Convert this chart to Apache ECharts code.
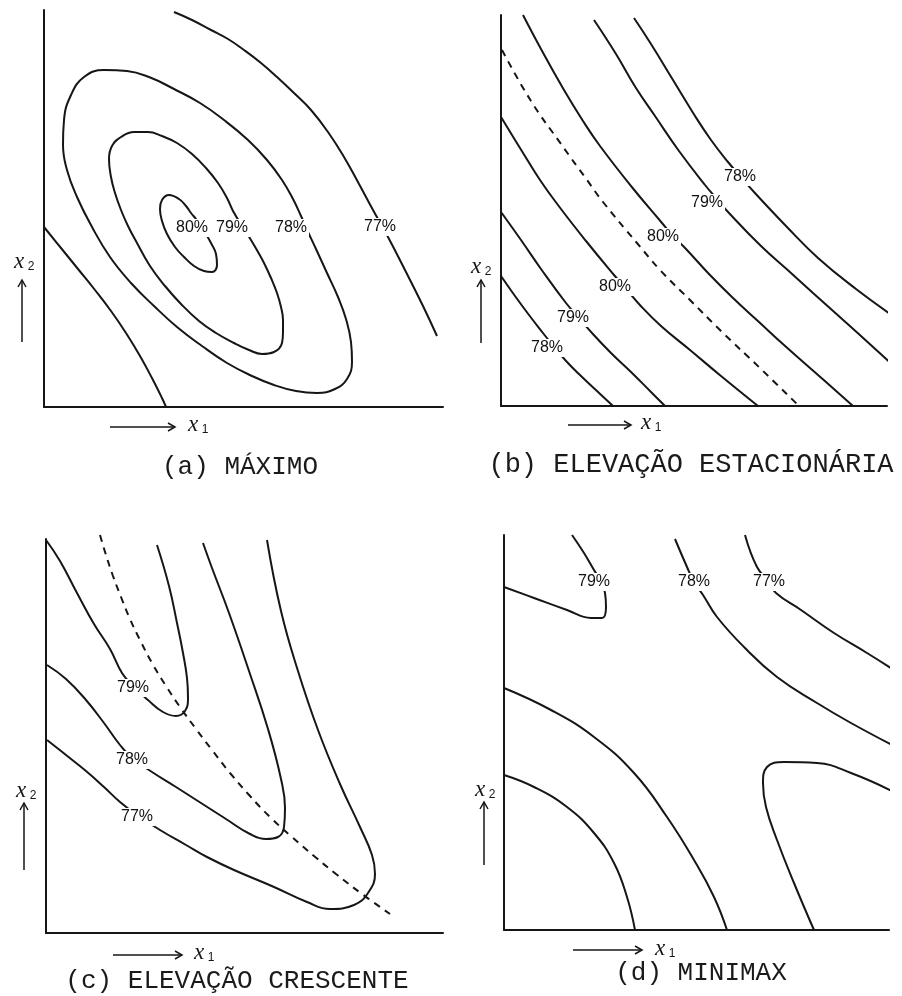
<!DOCTYPE html>
<html>
<head>
<meta charset="utf-8">
<script src="https://cdn.jsdelivr.net/npm/echarts@6/dist/echarts.min.js"></script>
<style>
  html, body { margin: 0; padding: 0; background: #fff; }
  #chart { width: 902px; height: 996px; }
</style>
</head>
<body>
<div id="chart"></div>
<script>
// ---- (a) MÁXIMO : contour lines in the (x1, x2) plane ----
const maxCurve77Upper = [[130,395],[148,387],[167,377],[184,368],[200,357],[217,344],[233,330],[250,314],[267,297],[284,275],[300,250],[315,223],[329,197],[344,170],[362,135],[379,101],[393,71]];
const maxCurve77Lower = [[0,180],[17,159],[34,138],[51,117],[67,96],[82,74],[96,51],[109,27],[118,9],[122,0]];
const maxCurve78 = [[264,175],[272,158],[283,134],[294,110],[302,88],[307,65],[308,45],[303,28],[291,18],[273,14],[252,16],[230,22],[208,31],[183,44],[158,61],[133,80],[110,101],[87,124],[66,150],[48,180],[33,210],[23,237],[19,262],[20,287],[27,312],[40,330],[60,337],[83,336],[105,330],[130,318],[156,304],[180,287],[204,267],[223,247],[238,227],[249,208],[257,191],[264,175]];
const maxCurve79 = [[197,183],[207,167],[214,155],[220,144],[227,129],[233,114],[237,100],[239,87],[239,75],[238,64],[230,55],[218,53],[205,57],[190,64],[172,74],[155,86],[137,103],[121,121],[106,141],[93,164],[84,181],[77,197],[71,214],[67,230],[65,248],[68,261],[77,270],[90,275],[104,275],[118,271],[133,264],[148,253],[162,239],[174,224],[183,209],[189,196],[197,183]];
const maxCurve80 = [[157,181],[152,188],[147,194],[142,201],[135,208],[125,212],[118,207],[116,198],[118,186],[123,173],[131,160],[140,150],[150,141],[160,136],[168,135],[173,142],[172,153],[167,164],[162,173],[157,181]];
const maxLabels = [[148,179,'80%'],[188,179,'79%'],[247,179,'78%'],[336,180,'77%']];

// ---- (b) ELEVAÇÃO ESTACIONÁRIA ----
const statCurve78Lower = [[0,130],[14,110],[28,91],[42,73],[54,58],[66,44],[80,30],[96,15],[112,0]];
const statCurve79Lower = [[0,194],[20,166],[40,137],[65,103],[78,88],[91,73],[110,53],[130,34],[150,14],[164,0]];
const statCurve80Lower = [[0,289],[19,258],[39,226],[60,197],[85,165],[113,131],[126,116],[138,102],[160,80],[189,56],[220,30],[257,0]];
const statRidge = [[1,356],[30,305],[60,262],[86,226],[102,204],[136,163],[160,135],[189,106],[220,75],[260,37],[298,0]];
const statCurve80Upper = [[22,391],[40,357],[63,316],[82,285],[99,260],[130,220],[161,183],[172,170],[185,157],[208,132],[232,108],[258,84],[283,61],[317,31],[352,0]];
const statCurve79Upper = [[93,386],[115,352],[135,318],[154,290],[178,255],[204,221],[216,207],[228,193],[260,160],[290,133],[312,113],[350,79],[393,40]];
const statCurve78Upper = [[133,388],[150,362],[172,326],[194,290],[210,266],[227,244],[240,229],[253,214],[285,180],[317,148],[355,117],[395,88]];
const statLabels = [[239,229,'78%'],[206,203,'79%'],[162,169,'80%'],[114,119,'80%'],[72,88,'79%'],[46,58,'78%']];

// ---- (c) ELEVAÇÃO CRESCENTE ----
const riseCurve79 = [[0,393],[14,372],[31,340],[48,309],[64,284],[76,260],[87,247],[102,233],[117,221],[130,217],[139,222],[142,235],[141,255],[137,280],[131,310],[123,347],[111,388]];
const riseCurve78 = [[1,268],[20,254],[40,233],[58,210],[74,188],[86,175],[106,161],[130,146],[155,130],[180,114],[204,99],[220,94],[232,96],[238,106],[239,125],[235,154],[222,204],[203,262],[183,320],[166,365],[157,390]];
const riseCurve77 = [[1,193],[20,178],[40,162],[58,146],[74,131],[91,118],[114,103],[140,88],[161,76],[188,63],[228,46],[261,31],[284,24],[308,28],[322,40],[329,59],[326,78],[314,106],[294,149],[272,203],[252,262],[235,322],[221,393]];
const riseRidge = [[54,398],[60,378],[67,357],[75,336],[84,314],[94,293],[106,270],[120,247],[134,226],[150,204],[166,183],[184,160],[204,137],[224,116],[246,96],[268,77],[290,59],[316,39],[344,19]];
const riseLabels = [[87,245,'79%'],[86,173,'78%'],[91,116,'77%']];

// ---- (d) MINIMAX ----
const minimaxCurve79 = [[0,343],[30,332],[63,320],[87,312],[98,312],[102,323],[101,337],[96,350],[90,360],[80,377],[68,395]];
const minimaxCurve78 = [[171,391],[183,363],[190,348],[199,335],[213,313],[240,283],[273,253],[313,227],[347,207],[392,183]];
const minimaxCurve77 = [[241,395],[253,363],[265,348],[272,337],[297,320],[330,297],[363,277],[390,260]];
const minimaxCurveInner = [[0,155],[30,143],[63,123],[90,97],[110,67],[123,33],[131,0]];
const minimaxCurveOuter = [[0,242],[47,220],[90,193],[130,157],[163,113],[190,70],[210,33],[223,0]];
const minimaxCurveRight = [[390,138],[347,157],[313,167],[280,168],[263,163],[259,147],[262,123],[273,90],[290,47],[310,0]];
const minimaxLabels = [[90,348,'79%'],[190,348,'78%'],[265,348,'77%']];

const captions = ['(a) MÁXIMO', '(b) ELEVAÇÃO ESTACIONÁRIA', '(c) ELEVAÇÃO CRESCENTE', '(d) MINIMAX'];

const ink = '#161616';

const panels = [
  { box: { left: 44, top: 10, width: 399, height: 397 }, xMax: 399, yMax: 397,
    solid: [maxCurve77Upper, maxCurve77Lower, maxCurve78, maxCurve79, maxCurve80], dashed: [], labels: maxLabels },
  { box: { left: 501, top: 15, width: 386, height: 391 }, xMax: 386, yMax: 391,
    solid: [statCurve78Lower, statCurve79Lower, statCurve80Lower, statCurve80Upper, statCurve79Upper, statCurve78Upper], dashed: [statRidge], labels: statLabels },
  { box: { left: 46, top: 539, width: 397, height: 394 }, xMax: 397, yMax: 394,
    solid: [riseCurve79, riseCurve78, riseCurve77], dashed: [riseRidge], labels: riseLabels },
  { box: { left: 504, top: 535, width: 385, height: 395 }, xMax: 385, yMax: 395,
    solid: [minimaxCurve79, minimaxCurve78, minimaxCurve77, minimaxCurveInner, minimaxCurveOuter, minimaxCurveRight], dashed: [], labels: minimaxLabels }
];

function curveSeries(gi, data, dashed) {
  return {
    type: 'line', xAxisIndex: gi, yAxisIndex: gi, data: data,
    smooth: 0.45, symbol: 'none', showSymbol: false, clip: false, silent: true, z: 2,
    lineStyle: { color: ink, width: 2, type: dashed ? [7, 6] : 'solid' }
  };
}

function labelSeries(gi, rows) {
  return {
    type: 'scatter', xAxisIndex: gi, yAxisIndex: gi, silent: true, z: 6,
    symbolSize: 1, itemStyle: { color: '#fff', opacity: 1 },
    data: rows.map(r => ({ value: [r[0], r[1]], name: r[2] })),
    label: {
      show: true, position: 'inside', formatter: '{b}', opacity: 1,
      color: '#111', fontFamily: 'Liberation Sans', fontSize: 16,
      backgroundColor: '#fff', padding: [1, 2]
    }
  };
}

const grids = [], xAxes = [], yAxes = [], series = [];
panels.forEach((p, i) => {
  grids.push(Object.assign({ containLabel: false }, p.box));
  const axisCommon = {
    type: 'value', gridIndex: i, min: 0,
    axisLine: { show: true, onZero: false, lineStyle: { color: ink, width: 2 } },
    axisTick: { show: false }, axisLabel: { show: false }, splitLine: { show: false }
  };
  xAxes.push(Object.assign({}, axisCommon, { max: p.xMax }));
  yAxes.push(Object.assign({}, axisCommon, { max: p.yMax }));
  p.solid.forEach(c => series.push(curveSeries(i, c, false)));
  p.dashed.forEach(c => series.push(curveSeries(i, c, true)));
  series.push(labelSeries(i, p.labels));
});

// axis direction arrows and axis names
function arrowRight(x1, x2, y) {
  return [
    { type: 'line', shape: { x1: x1, y1: y, x2: x2, y2: y }, style: { stroke: ink, lineWidth: 1.5 } },
    { type: 'polyline', shape: { points: [[x2 - 7, y - 4], [x2, y], [x2 - 7, y + 4]] }, style: { stroke: ink, lineWidth: 1.5, fill: null } }
  ];
}
function arrowUp(x, y1, y2) {
  return [
    { type: 'line', shape: { x1: x, y1: y1, x2: x, y2: y2 }, style: { stroke: ink, lineWidth: 1.5 } },
    { type: 'polyline', shape: { points: [[x - 4, y2 + 7], [x, y2], [x + 4, y2 + 7]] }, style: { stroke: ink, lineWidth: 1.5, fill: null } }
  ];
}
function varName(x, y, sub) {
  return [
    { type: 'text', x: x, y: y, style: { text: 'x', fontFamily: 'Liberation Serif', fontStyle: 'italic', fontSize: 23, fill: ink, align: 'center', verticalAlign: 'middle' } },
    { type: 'text', x: x + 12, y: y + 5, style: { text: sub, fontFamily: 'Liberation Sans', fontSize: 12, fill: ink, align: 'center', verticalAlign: 'middle' } }
  ];
}
function caption(text, x, y, size) {
  return { type: 'text', x: x, y: y,
    style: { text: text, fontFamily: 'Liberation Mono', fontSize: size, fill: '#1a1a1a', align: 'center', verticalAlign: 'middle' } };
}

const graphic = [].concat(
  arrowRight(110, 175, 427), varName(193, 425, '1'),
  arrowUp(22, 342, 280), varName(19, 262, '2'),
  arrowRight(568, 631, 425), varName(646, 423, '1'),
  arrowUp(481, 343, 280), varName(476, 267, '2'),
  arrowRight(113, 182, 955), varName(199, 953, '1'),
  arrowUp(24, 870, 803), varName(21, 791, '2'),
  arrowRight(573, 642, 950), varName(660, 949, '1'),
  arrowUp(484, 865, 802), varName(480, 790, '2'),
  [caption(captions[0], 240, 467, 26), caption(captions[1], 691, 465, 27),
   caption(captions[2], 237, 981, 26), caption(captions[3], 701, 973, 26)]
);

const chart = echarts.init(document.getElementById('chart'), null, { renderer: 'canvas' });
chart.setOption({
  backgroundColor: '#fff',
  animation: false,
  grid: grids,
  xAxis: xAxes,
  yAxis: yAxes,
  series: series,
  graphic: { elements: graphic }
});
</script>
</body>
</html>
